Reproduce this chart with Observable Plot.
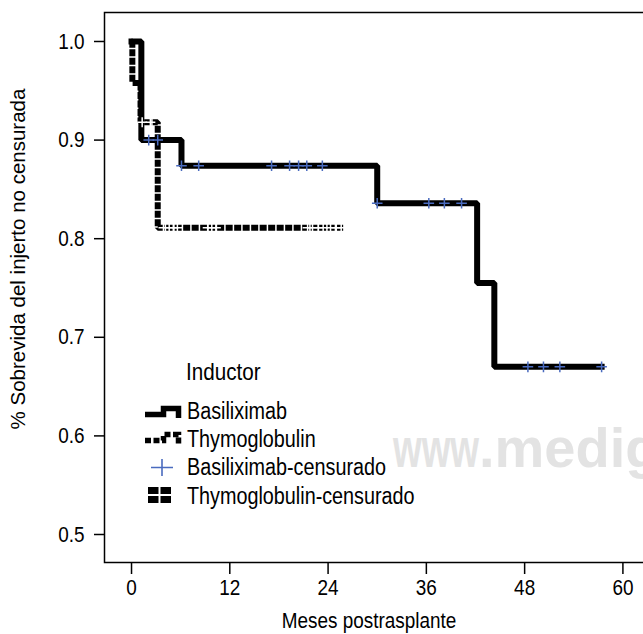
<!DOCTYPE html>
<html>
<head>
<meta charset="utf-8">
<script src="https://cdn.jsdelivr.net/npm/d3@7"></script>
<script src="https://cdn.jsdelivr.net/npm/@observablehq/plot@0.6"></script>
<style>
  html, body { margin: 0; padding: 0; background: white; overflow: hidden; }
  #wrap { position: relative; width: 643px; height: 634px; overflow: hidden; }
  #wrap > svg { max-width: none !important; }
  #overlay { position: absolute; left: 0; top: 0; pointer-events: none; }
</style>
</head>
<body>
<div id="wrap"></div>
<script>
// ---- data ----
const xTicks = [0, 12, 24, 36, 48, 60];
const yTicks = [0.5, 0.6, 0.7, 0.8, 0.9, 1.0];

// Basiliximab survival step curve
const basilTimes = [0, 1.2, 6.1, 30.0, 42.2, 44.3, 57.4];
const basilSurv  = [1.0, 0.90, 0.874, 0.836, 0.755, 0.670, 0.670];

// Thymoglobulin survival step curve
const thymoTimes = [0, 0.1, 1.1, 3.2, 25.9];
const thymoSurv  = [1.0, 0.958, 0.918, 0.811, 0.811];

// censored observations
const basilCensTimes = [2.1, 3.2, 6.1, 8.2, 17.1, 19.3, 20.4, 21.4, 23.3, 30.0, 36.3, 38.2, 40.3, 48.4, 50.3, 52.3, 57.4];
const basilCensSurv  = [0.90, 0.90, 0.874, 0.874, 0.874, 0.874, 0.874, 0.874, 0.874, 0.836, 0.836, 0.836, 0.836, 0.670, 0.670, 0.670, 0.670];
const thymoCensTimes = [1.3, 2.3, 3.9, 4.6, 5.1, 5.6, 9.3, 9.8, 10.3, 21.5, 22.1, 22.8, 23.4, 24.3, 25.0, 25.6];
const thymoCensSurv  = [0.918, 0.918, 0.811, 0.811, 0.811, 0.811, 0.811, 0.811, 0.811, 0.811, 0.811, 0.811, 0.811, 0.811, 0.811, 0.811];

const legendTitle = "Inductor";
const legendLabels = ["Basiliximab", "Thymoglobulin", "Basiliximab-censurado", "Thymoglobulin-censurado"];
const xLabel = "Meses postrasplante";
const yLabel = "% Sobrevida del injerto no censurada";
const watermark = ["www", ".medigraphic.com"];

// ---- build tables ----
const basil = basilTimes.map((t, i) => ({t, s: basilSurv[i]}));
const thymo = thymoTimes.map((t, i) => ({t, s: thymoSurv[i]}));
const basilCens = basilCensTimes.map((t, i) => ({t, s: basilCensSurv[i]}));
const thymoCens = thymoCensTimes.map((t, i) => ({t, s: thymoCensSurv[i]}));

const FONT = '"Liberation Sans", Arial, Helvetica, sans-serif';
const BLUE = "#4a6bbf";
const SQUEEZE = 0.86;

const chart = Plot.plot({
  width: 700,
  height: 634,
  marginLeft: 104,
  marginRight: 40,
  marginTop: 12,
  marginBottom: 72,
  style: {fontFamily: FONT, fontSize: "22px", color: "black", background: "white", maxWidth: "none"},
  x: {domain: [-3.30, 64.59]},
  y: {domain: [0.4716, 1.0294]},
  marks: [
    Plot.frame({stroke: "black", strokeWidth: 1.5}),
    Plot.axisX({ticks: xTicks, tickSize: 12, tickPadding: 5, strokeWidth: 1.5, fontSize: 22,
      tickFormat: d => String(d), label: null}),
    Plot.axisY({ticks: yTicks, tickSize: 10, tickPadding: 10, strokeWidth: 1.5, fontSize: 22,
      tickFormat: d3.format(".1f"), label: null}),
    Plot.line(thymo, {x: "t", y: "s", curve: "step-after", stroke: "black", strokeWidth: 6,
      strokeDasharray: "7,1.5", strokeLinejoin: "miter", strokeLinecap: "butt"}),
    Plot.line(basil, {x: "t", y: "s", curve: "step-after", stroke: "black", strokeWidth: 6,
      strokeLinejoin: "miter", strokeLinecap: "square"}),
    Plot.dot(basilCens, {x: "t", y: "s", symbol: "plus", r: 3.5, stroke: BLUE, strokeWidth: 1.5}),
    Plot.dot(thymoCens, {x: "t", y: "s", symbol: "plus", r: 3.3, stroke: "white", strokeWidth: 1.5})
  ]
});
chart.style.maxWidth = "none";

const wrap = document.getElementById("wrap");
wrap.appendChild(chart);

// ---- titles, legend + watermark overlay ----
const ns = "http://www.w3.org/2000/svg";
const ov = document.createElementNS(ns, "svg");
ov.setAttribute("id", "overlay");
ov.setAttribute("width", 643);
ov.setAttribute("height", 634);
function el(tag, attrs, text) {
  const e = document.createElementNS(ns, tag);
  for (const k in attrs) e.setAttribute(k, attrs[k]);
  if (text != null) e.textContent = text;
  ov.appendChild(e);
  return e;
}
// watermark
el("text", {x: 393, y: 467, class: "nocomp", "font-family": FONT, "font-weight": "bold",
  "font-size": 56, fill: "#e3e3e3", textLength: 86, lengthAdjust: "spacingAndGlyphs"}, watermark[0]);
el("text", {x: 479, y: 467, class: "nocomp", "font-family": FONT, "font-weight": "bold",
  "font-size": 56, fill: "#e3e3e3"}, watermark[1]);

// axis titles
el("text", {x: 369, y: 628, "text-anchor": "middle", "font-family": FONT, "font-size": 22, fill: "black"}, xLabel);
el("text", {transform: "translate(25,259) rotate(-90)", class: "nocomp", "text-anchor": "middle",
  "font-family": FONT, "font-size": 20.5, fill: "black"}, yLabel);

// legend
el("text", {x: 186, y: 380, "font-family": FONT, "font-size": 24, fill: "black"}, legendTitle);
const base = [419, 447, 475, 504];
legendLabels.forEach((lab, i) => {
  el("text", {x: 187, y: base[i], "font-family": FONT, "font-size": 23, fill: "black"}, lab);
});
el("path", {d: "M145,414.5H163.5V408.5H178.5V418", fill: "none", stroke: "black", "stroke-width": 5.5, "stroke-linejoin": "miter"});
el("path", {d: "M145,440.5H163.5V434.5H178.5V444", fill: "none", stroke: "black", "stroke-width": 5.5, "stroke-dasharray": "6,2.5", "stroke-linejoin": "miter"});
el("path", {d: "M151,467.5H173M162,459V476", fill: "none", stroke: BLUE, "stroke-width": 1.6});
el("rect", {x: 148, y: 487, width: 23, height: 16, fill: "black"});
el("path", {d: "M148,495H171M159.5,487V503", fill: "none", stroke: "white", "stroke-width": 2});
wrap.appendChild(ov);

// narrow the Helvetica-like glyphs horizontally, as in the reference (not the vertical y title)
wrap.querySelectorAll("text").forEach(t => {
  if (t.classList.contains("nocomp")) return;
  const len = t.getComputedTextLength();
  if (len > 0) {
    t.setAttribute("textLength", (len * SQUEEZE).toFixed(2));
    t.setAttribute("lengthAdjust", "spacingAndGlyphs");
  }
});
</script>
</body>
</html>
